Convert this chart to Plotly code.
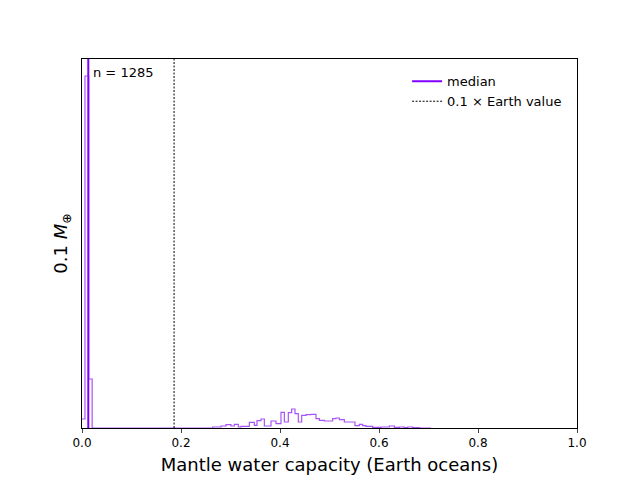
import plotly.graph_objects as go

# histogram step edges (data units) and heights (arbitrary count units)
left_edges = [0.0, 0.006, 0.0135, 0.0205, 0.026]
left_heights = [9, 352, 49, 0, 0]

zx = [0, 35, 60, 75, 90, 100, 112, 120, 145, 160, 168, 180, 190, 210, 225, 240, 250, 262,
      272, 282, 292, 302, 315, 330, 345, 355, 370, 395, 405, 415, 430, 462, 475, 485, 495,
      515, 540, 565, 580, 595, 610, 620, 635, 655, 690]
right_heights = [0, 1, 2, 3.3, 2, 3.7, 1, 1.7, 5.7, 2.7, 7.3, 9, 2, 7, 4.3, 15.7, 6, 15.3,
                 19, 14.3, 6, 12.7, 13.3, 13.7, 9.3, 7.7, 7, 9.3, 10, 8.3, 6, 2.3, 3.7, 2.3,
                 1.7, 0.7, 1, 2, 0.7, 1, 0.3, 1, 0.3, 0, 0]
right_edges = [round((200 + z / 3 - 81) / 495, 4) for z in zx]

median_x = 0.0127
earth_x = 0.186
y_top = 369
n_samples = 1285

hist_color = '#a855f7'
median_color = '#7f00ff'

fig = go.Figure()
fig.add_trace(go.Scatter(x=left_edges + right_edges, y=left_heights + right_heights[:len(right_edges)],
                         mode='lines', line=dict(shape='hv', color=hist_color, width=1.2),
                         showlegend=False, hoverinfo='skip'))
fig.add_trace(go.Scatter(x=[median_x, median_x], y=[0, y_top], mode='lines',
                         line=dict(color=median_color, width=2), name='median'))
fig.add_trace(go.Scatter(x=[earth_x, earth_x], y=[0, y_top], mode='lines',
                         line=dict(color='black', width=1, dash='2px,1.5px'),
                         name='0.1 × Earth value'))

fig.add_annotation(x=0.018, y=y_top - 4, text=f'n = {n_samples}', showarrow=False,
                   xanchor='left', yanchor='top', font=dict(size=13, color='black'))

fig.update_xaxes(range=[0, 1], tickvals=[0, 0.2, 0.4, 0.6, 0.8, 1.0],
                 ticktext=['0.0', '0.2', '0.4', '0.6', '0.8', '1.0'],
                 ticks='outside', ticklen=4, showgrid=False, zeroline=False,
                 showline=True, linecolor='black', mirror=True,
                 tickfont=dict(size=12, color='black'),
                 title=dict(text='Mantle water capacity (Earth oceans)', font=dict(size=18, color='black'),
                            standoff=8))
fig.update_yaxes(range=[0, y_top], showticklabels=False, ticks='', showgrid=False,
                 zeroline=False, showline=True, linecolor='black', mirror=True,
                 title=dict(text='0.1 <i>M</i><sub>⊕</sub>', font=dict(size=18, color='black'), standoff=8))

fig.update_layout(
    width=640, height=480,
    margin=dict(l=74, r=71, t=51, b=60),
    plot_bgcolor='white', paper_bgcolor='white',
    font=dict(family='DejaVu Sans', color='black'),
    legend=dict(x=0.98, y=0.98, xanchor='right', yanchor='top',
                bgcolor='rgba(255,255,255,0.8)', font=dict(size=13)),
)

fig.write_html("out.html")
